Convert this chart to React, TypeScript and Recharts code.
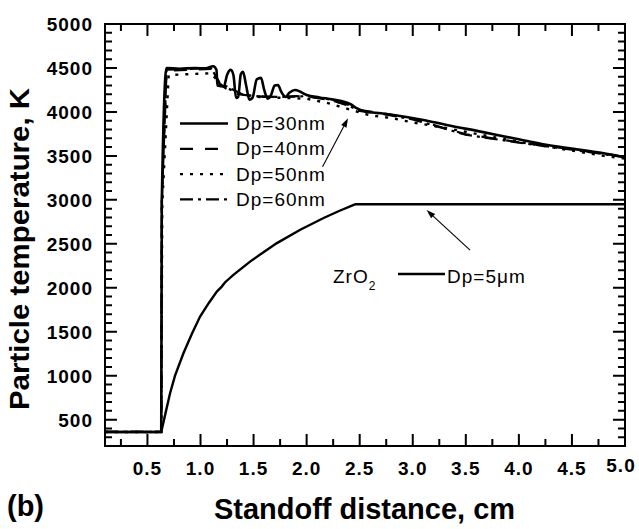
import React from 'react'
import { LineChart, Line, XAxis, YAxis, Legend, Label, ReferenceLine } from 'recharts'

const FONT = "'Liberation Sans', Arial, Helvetica, sans-serif"

// standoff distance (cm) and particle temperature (K)
const d30 = [0.1, 0.63, 0.635, 0.68, 0.8, 0.95, 1.05, 1.12, 1.15, 1.16, 1.22, 1.25, 1.285, 1.31, 1.335, 1.355, 1.38, 1.4, 1.43, 1.46, 1.49, 1.53, 1.57, 1.6, 1.635, 1.66, 1.7, 1.73, 1.76, 1.8, 1.84, 1.89, 1.94, 2.0, 2.12, 2.25, 2.41, 2.47, 2.56, 2.7, 2.85, 3.1, 3.32, 3.64, 3.95, 4.27, 4.58, 4.8, 5.0]
const t30 = [360, 360, 2960, 4500, 4490, 4500, 4495, 4520, 4480, 4300, 4290, 4420, 4478, 4420, 4160, 4170, 4430, 4455, 4300, 4140, 4160, 4370, 4387, 4250, 4150, 4180, 4300, 4307, 4230, 4170, 4220, 4250, 4230, 4193, 4165, 4140, 4090, 4042, 4003, 3985, 3960, 3909, 3852, 3776, 3700, 3624, 3568, 3530, 3485]

const d40 = [0.1, 0.63, 0.635, 0.68, 0.9, 1.1, 1.18, 1.3, 1.5, 1.7, 1.9, 2.0, 2.2, 2.4, 2.5, 2.7, 3.0, 3.5, 4.0, 4.5, 5.0]
const t40 = [360, 360, 2960, 4470, 4480, 4490, 4320, 4210, 4180, 4170, 4180, 4175, 4140, 4080, 4020, 3990, 3920, 3745, 3655, 3575, 3490]

const d50 = [0.1, 0.63, 0.64, 0.7, 0.9, 1.1, 1.2, 1.4, 1.6, 1.8, 2.0, 2.2, 2.4, 2.6, 2.8, 3.0, 3.3, 3.6, 4.0, 4.4, 4.8, 5.0]
const t50 = [360, 360, 2960, 4420, 4430, 4440, 4300, 4190, 4165, 4160, 4150, 4100, 4030, 3960, 3930, 3880, 3820, 3750, 3660, 3580, 3500, 3470]

const d60 = [0.1, 0.63, 0.635, 0.68, 0.9, 1.1, 1.18, 1.4, 1.6, 1.8, 2.0, 2.2, 2.4, 2.5, 2.7, 3.0, 3.5, 4.0, 4.5, 5.0]
const t60 = [360, 360, 2960, 4480, 4490, 4500, 4330, 4195, 4172, 4170, 4180, 4145, 4070, 4010, 3980, 3915, 3740, 3650, 3570, 3485]

const d5um = [0.1, 0.63, 0.66, 0.713, 0.76, 0.839, 0.92, 0.996, 1.08, 1.154, 1.2, 1.23, 1.31, 1.47, 1.6, 1.72, 1.94, 2.16, 2.3, 2.41, 2.46, 3.0, 4.0, 5.0]
const t5um = [360, 360, 520, 800, 1000, 1255, 1480, 1672, 1830, 1956, 2013, 2060, 2146, 2300, 2410, 2508, 2660, 2793, 2870, 2925, 2950, 2950, 2950, 2950]

const xMajor = [0.5, 1, 1.5, 2, 2.5, 3, 3.5, 4, 4.5, 5]
const xMinor = [0.25, 0.75, 1.25, 1.75, 2.25, 2.75, 3.25, 3.75, 4.25, 4.75]
const yMajor = [500, 1000, 1500, 2000, 2500, 3000, 3500, 4000, 4500, 5000]
const yMinor: number[] = []
for (let v = 300; v < 5000; v += 100) if (v % 500 !== 0) yMinor.push(v)

const X_DOMAIN: [number, number] = [0.1, 5]
const Y_DOMAIN: [number, number] = [200, 5000]

// chart box: plot area is 520 x 422 px
const W = 639
const H = 529
const M = { top: 24, right: 14, bottom: 83, left: 105 }
const plotW = W - M.left - M.right
const plotH = H - M.top - M.bottom
const sx = (v: number) => M.left + ((v - X_DOMAIN[0]) / (X_DOMAIN[1] - X_DOMAIN[0])) * plotW
const sy = (v: number) => M.top + ((Y_DOMAIN[1] - v) / (Y_DOMAIN[1] - Y_DOMAIN[0])) * plotH

// annotation arrows: tail -> head, in data units
const arrowNano = [{ x: 2.15, y: 3377 }, { x: 2.39, y: 3927 }]
const arrow5um = [{ x: 3.54, y: 2429 }, { x: 3.13, y: 2884 }]

const pts = (xs: number[], ys: number[]) => xs.map((x, i) => ({ x, T: ys[i] }))

const nano = [
  { name: 'Dp=30nm', data: pts(d30, t30), dash: undefined, width: 2.6 },
  { name: 'Dp=40nm', data: pts(d40, t40), dash: '13 12', width: 2.2 },
  { name: 'Dp=50nm', data: pts(d50, t50), dash: '3 7', width: 2.4 },
  { name: 'Dp=60nm', data: pts(d60, t60), dash: '13 5 3 5', width: 2.2 },
]
const micro = { name: 'Dp=5μm', data: pts(d5um, t5um) }

const tickText = { fontFamily: FONT, fontWeight: 700, fontSize: 19, letterSpacing: 1, fill: '#000' }

function XLabel(props: any) {
  const x = Number(props.x)
  const y = Number(props.y)
  const v = props.payload.value
  const last = v === 5
  return (
    <text x={last ? x - 4 : x} y={last ? y + 26 : y + 29} textAnchor="middle" {...tickText}>
      {v.toFixed(1)}
    </text>
  )
}

function YLabel(props: any) {
  const x = Number(props.x)
  const y = Number(props.y)
  return (
    <text x={x - 12} y={y + 7} textAnchor="end" {...tickText}>
      {props.payload.value}
    </text>
  )
}

const NoLabel = () => <g />

function Arrow({ x1, y1, x2, y2 }: any) {
  const a = Math.atan2(y2 - y1, x2 - x1)
  const L = 9
  const Wd = 3
  const bx = x2 - L * Math.cos(a)
  const by = y2 - L * Math.sin(a)
  const p1 = `${bx + Wd * Math.sin(a)},${by - Wd * Math.cos(a)}`
  const p2 = `${bx - Wd * Math.sin(a)},${by + Wd * Math.cos(a)}`
  return (
    <g>
      <line x1={x1} y1={y1} x2={bx} y2={by} stroke="#000" strokeWidth={1.1} />
      <polygon points={`${x2},${y2} ${p1} ${p2}`} fill="#000" />
    </g>
  )
}

// frame with inward major / minor ticks on all four sides
function FrameMarks() {
  const l = sx(X_DOMAIN[0])
  const r = sx(X_DOMAIN[1])
  const t = sy(Y_DOMAIN[1])
  const b = sy(Y_DOMAIN[0])
  let d = `M${l},${t}H${r}V${b}H${l}Z`
  const xm = (v: number, len: number) => { const x = sx(v); d += `M${x},${b}v${-len}M${x},${t}v${len}` }
  const ym = (v: number, len: number) => { const y = sy(v); d += `M${l},${y}h${len}M${r},${y}h${-len}` }
  xMajor.forEach((v) => xm(v, 11))
  xMinor.forEach((v) => xm(v, 6))
  yMajor.forEach((v) => ym(v, 11))
  yMinor.forEach((v) => ym(v, 6))
  return <path d={d} fill="none" stroke="#000" strokeWidth={2} strokeLinecap="square" />
}

const legendText = { fontFamily: FONT, fontSize: 19, letterSpacing: 1, fill: '#000' }

function LegendBox() {
  return (
    <svg width={W} height={H} style={{ overflow: 'visible' }}>
      <FrameMarks />
      {nano.map((s, i) => (
        <g key={s.name}>
          <line x1={180} x2={228} y1={123.5 + i * 25.3} y2={123.5 + i * 25.3} stroke="#000" strokeWidth={s.width} strokeDasharray={s.dash} />
          <text x={236} y={130 + i * 25.3} {...legendText}>{s.name}</text>
        </g>
      ))}
      <text x={333} y={283} {...legendText}>
        ZrO<tspan dy={7} fontSize={12}>2</tspan>
      </text>
      <line x1={398} x2={445} y1={274} y2={274} stroke="#000" strokeWidth={2.4} />
      <text x={447} y={283} {...legendText}>{micro.name}</text>
    </svg>
  )
}

const YTitle = () => (
  <text x={29} y={249} transform="rotate(-90 29 249)" textAnchor="middle" fontFamily={FONT} fontWeight={700} fontSize={27} textLength={322} lengthAdjust="spacingAndGlyphs" fill="#000">
    Particle temperature, K
  </text>
)

const XTitle = () => (
  <g>
    <text x={7} y={516} fontFamily={FONT} fontWeight={700} fontSize={29} fill="#000">(b)</text>
    <text x={364.5} y={519} textAnchor="middle" fontFamily={FONT} fontWeight={700} fontSize={29} textLength={301} lengthAdjust="spacingAndGlyphs" fill="#000">
      Standoff distance, cm
    </text>
  </g>
)

const frame = { stroke: '#000', strokeWidth: 2, strokeLinecap: 'square' as const }

export default function App() {
  return (
    <div style={{ position: 'absolute', left: 0, top: 0, width: W, height: H, background: '#fff' }}>
      <LineChart width={W} height={H} margin={{ top: 0, right: 0, bottom: 0, left: 0 }}>
        <XAxis xAxisId="bottom" dataKey="x" type="number" domain={X_DOMAIN} allowDataOverflow ticks={xMajor} interval={0}
          height={M.bottom} tickSize={0} tickMargin={0} tickLine={false} axisLine={frame} tick={<XLabel />}>
          <Label content={<XTitle />} />
        </XAxis>
        <XAxis xAxisId="top" orientation="top" dataKey="x" type="number" domain={X_DOMAIN} allowDataOverflow ticks={xMajor} interval={0}
          height={M.top} tickSize={0} tickMargin={0} tickLine={false} axisLine={frame} tick={<NoLabel />} />
        <YAxis yAxisId="left" type="number" domain={Y_DOMAIN} allowDataOverflow ticks={yMajor} interval={0}
          width={M.left} tickSize={0} tickMargin={0} tickLine={false} axisLine={frame} tick={<YLabel />}>
          <Label content={<YTitle />} />
        </YAxis>
        <YAxis yAxisId="right" orientation="right" type="number" domain={Y_DOMAIN} allowDataOverflow ticks={yMajor} interval={0}
          width={M.right} tickSize={0} tickMargin={0} tickLine={false} axisLine={frame} tick={<NoLabel />} />

        <Line xAxisId="bottom" yAxisId="left" name={micro.name} data={micro.data} dataKey="T" type="linear"
          stroke="#000" strokeWidth={2.4} dot={false} isAnimationActive={false} />
        {[...nano].reverse().map((s) => (
          <Line key={s.name} xAxisId="bottom" yAxisId="left" name={s.name} data={s.data} dataKey="T"
            type={s.dash ? 'linear' : 'monotone'}
            stroke="#000" strokeWidth={s.width} strokeDasharray={s.dash} dot={false} isAnimationActive={false} />
        ))}

        <ReferenceLine xAxisId="bottom" yAxisId="left" segment={arrowNano} shape={<Arrow />} />
        <ReferenceLine xAxisId="bottom" yAxisId="left" segment={arrow5um} shape={<Arrow />} />

        <Legend layout="horizontal" verticalAlign="middle" align="center" content={<LegendBox />}
          wrapperStyle={{ left: 0, top: 0, width: W, height: H, pointerEvents: 'none' }} />
      </LineChart>
    </div>
  )
}
